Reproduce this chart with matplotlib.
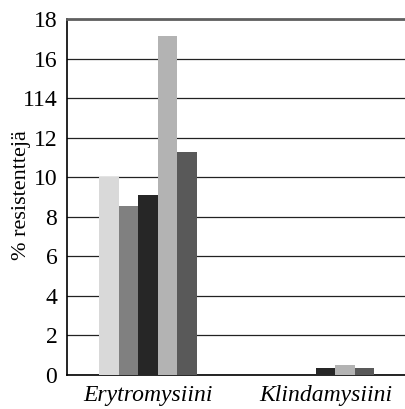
import matplotlib.pyplot as plt
import numpy as np

plt.rcParams['font.family'] = ['Liberation Serif', 'DejaVu Serif']

categories = ['Erytromysiini', 'Klindamysiini']
series_1 = [10.0, 0.0]
series_2 = [8.55, 0.0]
series_3 = [9.1, 0.35]
series_4 = [17.15, 0.5]
series_5 = [11.3, 0.35]
colors = ['#d9d9d9', '#808080', '#262626', '#b3b3b3', '#595959']
ytick_values = [0, 2, 4, 6, 8, 10, 12, 14, 16, 18]
ytick_labels = ['0', '2', '4', '6', '8', '10', '12', '114', '16', '18']

fig = plt.figure(figsize=(4.05, 4.09), dpi=100)
ax = fig.add_axes([0.1654, 0.0831, 0.8346, 0.8704])

x = np.arange(len(categories))
width = 0.11
all_series = [series_1, series_2, series_3, series_4, series_5]
for i, (vals, c) in enumerate(zip(all_series, colors)):
    ax.bar(x + (i - 2) * width, vals, width, color=c, zorder=3)

ax.set_xlim(-0.456, 1.448)
ax.set_ylim(0, 18)
ax.set_yticks(ytick_values)
ax.set_yticklabels(ytick_labels)
ax.set_xticks(x)
ax.set_xticklabels(categories, fontstyle='italic')
ax.tick_params(axis='both', length=0, labelsize=17, colors='black')
ax.tick_params(axis='y', pad=7)
ax.tick_params(axis='x', pad=7)

ax.yaxis.grid(True, color='#222222', linewidth=0.9, zorder=0)
ax.spines['right'].set_visible(False)
ax.spines['top'].set_color('#606060')
ax.spines['top'].set_linewidth(2)
ax.spines['left'].set_color('black')
ax.spines['bottom'].set_color('black')
ax.spines['left'].set_linewidth(1.2)
ax.spines['bottom'].set_linewidth(1.2)

ax.set_ylabel('% resistenttejä', fontsize=16)
ax.yaxis.set_label_coords(-0.1065, 0.5056)

fig.savefig('out.png', dpi=100)
